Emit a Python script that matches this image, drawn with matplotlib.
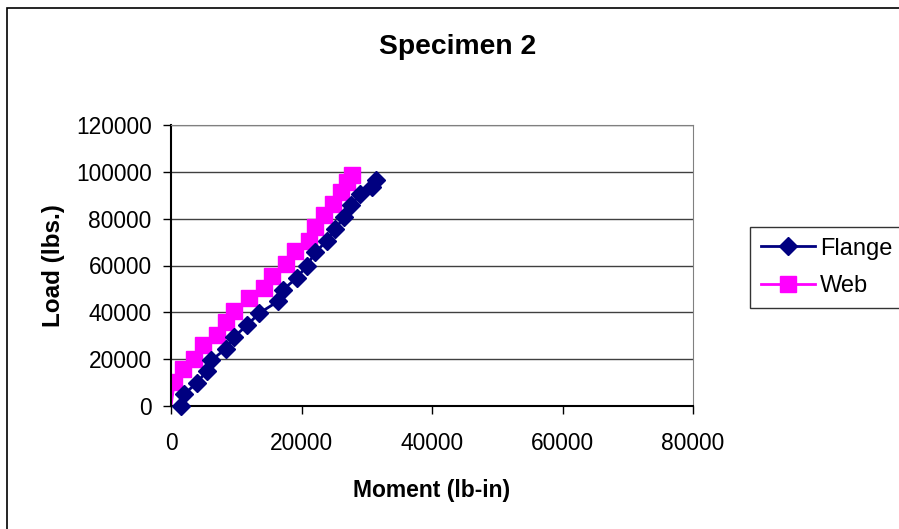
import matplotlib
matplotlib.use("Agg")
import matplotlib.pyplot as plt

plt.rcParams['font.family'] = ['Liberation Sans', 'DejaVu Sans']

# flange readings (moment lb-in, load lbs)
flange_moment = [1600, 2000, 4000, 5500, 6200, 8400, 9700, 11700, 13500, 16400,
                 17200, 19300, 20800, 22100, 23900, 25200, 26500, 27600, 29000,
                 30800, 31400]
flange_load = [0, 5000, 10000, 15000, 19500, 24500, 29600, 34600, 39600, 44700,
               49700, 54800, 59800, 65600, 70600, 75600, 80700, 85700, 90700,
               93600, 96500]

# web readings
web_moment = [0, 500, 1800, 3600, 4900, 7100, 8400, 9700, 12000, 14200, 15500,
              17700, 19000, 21200, 22100, 23400, 24800, 26100, 27000, 27800]
web_load = [0, 10100, 15900, 20200, 26000, 30300, 36000, 40400, 46100, 50400,
            55500, 60500, 66300, 70600, 76400, 81400, 86400, 91500, 95800, 98700]

x_ticks = [0, 20000, 40000, 60000, 80000]
y_ticks = [0, 20000, 40000, 60000, 80000, 100000, 120000]

fig = plt.figure(figsize=(8.99, 5.29), dpi=100)
# outer chart border
fig.patches.append(plt.Rectangle((7/899, -0.1), 1.2, (529-8)/529 + 0.1,
                                 transform=fig.transFigure, fill=False,
                                 edgecolor='black', linewidth=1.2))

ax = fig.add_axes([171/899, (529-406)/529, (693-171)/899, (406-125)/529])

ax.plot(flange_moment, flange_load, color='#000080', marker='D', markersize=9.5,
        linewidth=2, label='Flange', zorder=3, clip_on=False)
ax.plot(web_moment, web_load, color='#FF00FF', marker='s', markersize=11.5,
        linewidth=2, label='Web', markevery=list(range(1, len(web_moment))), zorder=2)

ax.set_xlim(0, 80000)
ax.set_ylim(0, 120000)
ax.set_xticks(x_ticks)
ax.set_yticks(y_ticks)
ax.tick_params(axis='both', labelsize=16.4, length=6, width=1, color='black')
ax.tick_params(axis='x', pad=13)
ax.tick_params(axis='y', pad=8)
ax.yaxis.grid(True, color='#404040', linewidth=1)
ax.set_axisbelow(True)
for side in ['top', 'right']:
    ax.spines[side].set_color('#808080')
for side in ['left', 'bottom']:
    ax.spines[side].set_color('black')
    ax.spines[side].set_linewidth(1.5)

ax.set_xlabel('Moment (lb-in)', fontsize=16.5, fontweight='bold', labelpad=17)
ax.set_ylabel('Load (lbs.)', fontsize=17.5, fontweight='bold', labelpad=8)
fig.text(458/899, 1 - 47/529, 'Specimen 2', ha='center', va='center',
         fontsize=20.3, fontweight='bold')

leg = fig.legend(loc='upper left', bbox_to_anchor=(750/899, 1 - 227/529),
                 fontsize=17, frameon=True, fancybox=False, edgecolor='black',
                 handlelength=2.3, borderpad=0.45, labelspacing=0.65,
                 handletextpad=0.2, borderaxespad=0)
leg.get_frame().set_linewidth(1)

fig.savefig('out.png', dpi=100)
